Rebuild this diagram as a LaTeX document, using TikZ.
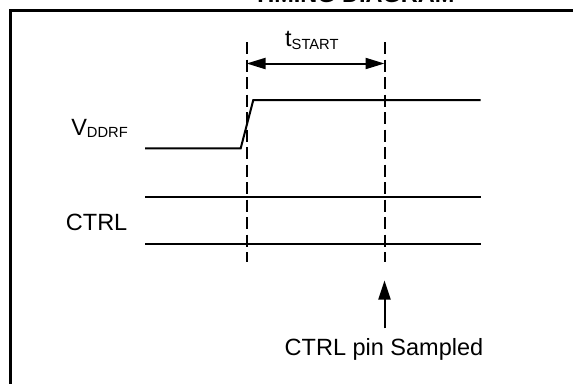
\documentclass[tikz,border=0pt]{standalone}
\usepackage{fontspec}
\setmainfont{Liberation Sans}
\usetikzlibrary{arrows.meta}
\newcommand\lowtext[1]{\raisebox{-2.5pt}{\fontsize{14.7}{16}\selectfont #1}}
\tikzset{
	signal/.style={line width=2pt},
	marker/.style={line width=2pt, dash pattern=on 12pt off 5.5pt},
	label/.style={font=\fontsize{23.5}{27}\selectfont, inner sep=0pt},
	dimarrow/.style={line width=2pt, {Triangle[length=19pt,width=11pt]}-{Triangle[length=19pt,width=11pt]}},
	pointer/.style={line width=2pt, -{Triangle[length=19pt,width=12pt]}}
}

\begin{document}
\begin{tikzpicture}[x=1pt, y=-1pt]
		%%%%% START %%%%%
		
		\clip (0, 0) rectangle (573, 383);
		
		% frame and title
		\draw[line width=2.8pt] (10.5, 400) -- (10.5, 10.5) -- (600, 10.5);
		\node[label, font=\fontsize{23.5}{27}\selectfont\bfseries, anchor=base] (title) at (354, 2) {TIMING DIAGRAM};
		
		% markers
		\coordinate (startTop) at (246.5, 42);
		\coordinate (startBot) at (246.5, 262);
		\coordinate (sampleTop) at (384.5, 42);
		\coordinate (sampleBot) at (384.5, 262);
		\draw[marker] (startTop) -- (startBot);
		\draw[marker] (sampleTop) -- (sampleBot);
		
		% t_START
		\coordinate (dimL) at (246.5, 63.5);
		\coordinate (dimR) at (384.5, 63.5);
		\draw[dimarrow] (dimL) -- (dimR);
		\node[label, anchor=base west] (tstart) at (285, 46.5) {t\lowtext{START}};
		
		% V_DDRF
		\node[label, anchor=base east] (vddrf) at (128, 135) {V\lowtext{DDRF}};
		\draw[signal] (145, 148.3) -- (240.7, 148.3) -- (253.3, 100) -- (480.7, 100);
		
		% CTRL
		\node[label, anchor=base east] (ctrl) at (127.5, 230) {CTRL};
		\draw[signal] (145, 196.5) -- (480.7, 196.5);
		\draw[signal] (145, 244) -- (480.7, 244);
		
		% sampling point
		\node[label, anchor=base] (sampled) at (384, 355.7) {CTRL pin Sampled};
		\coordinate (tip) at (384.5, 280.5);
		\draw[pointer] (sampled.north -| tip) ++(0, -10) -- (tip);
		
		%%%%% END %%%%%
	\end{tikzpicture}
\end{document}
